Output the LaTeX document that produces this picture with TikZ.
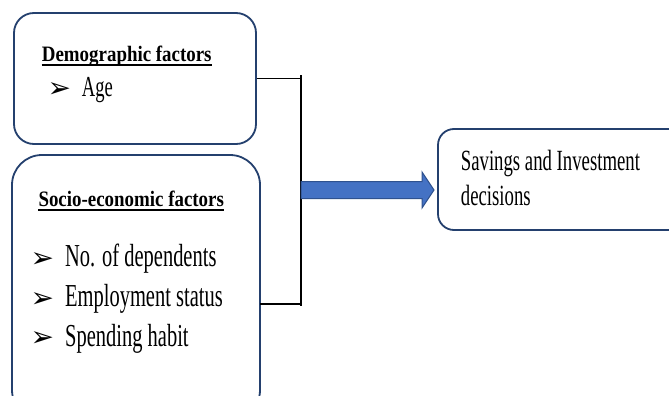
\documentclass[tikz,border=0pt]{standalone}
\usepackage{fontspec}
\setmainfont{Liberation Serif}[FakeStretch=0.64]
\newfontfamily\headfont{Liberation Serif}[FakeStretch=0.86]
\newfontfamily\bulletfont{DejaVu Sans}
\definecolor{boxline}{HTML}{24406E}
\definecolor{arrowfill}{HTML}{4472C4}
\definecolor{arrowedge}{HTML}{2F528F}
\tikzset{
  factorbox/.style={draw=boxline, line width=1.8pt, rectangle, inner sep=0pt},
  headtext/.style={anchor=base west, inner sep=0pt, font=\headfont\bfseries\fontsize{22}{26}\selectfont},
  itemtext/.style={anchor=base west, inner sep=0pt, font=\fontsize{32}{38}\selectfont},
  bullet/.style={anchor=base west, inner sep=0pt, font=\bulletfont\fontsize{28}{30}\selectfont},
  bracket/.style={draw=black, line width=1.8pt},
  blockarrow/.style={fill=arrowfill, draw=arrowedge, line width=1pt, line join=miter}
}
\begin{document}
\begin{tikzpicture}[x=1pt, y=-1pt]
\useasboundingbox[fill=white] (0,0) rectangle (669,396);
\clip (0,0) rectangle (669,396);

% demographic factors box
\node[factorbox, rounded corners=20pt, minimum width=242pt, minimum height=131pt] at (135, 78.5) (demo) {};
\node[headtext] at (41.7, 61.7) (demotitle) {Demographic factors};
\draw[line width=1.6pt] ([yshift=-3.5pt]demotitle.base west) -- ([yshift=-3.5pt]demotitle.base east);
\node[bullet] at (47.5, 97) (agebul) {➢};
\node[itemtext, font=\fontsize{29}{34}\selectfont] at (81.7, 96.7) (age) {Age};

% socio-economic factors box (runs below the page edge)
\node[factorbox, rounded corners=30pt, minimum width=248pt, minimum height=265pt] at (136, 287.5) (socio) {};
\node[headtext] at (38.3, 206.7) (sociotitle) {Socio-economic factors};
\draw[line width=1.6pt] ([yshift=-3.5pt]sociotitle.base west) -- ([yshift=-3.5pt]sociotitle.base east);
\node[bullet] at (30.5, 267) (depbul) {➢};
\node[itemtext] at (65, 266.7) (dep) {No. of dependents};
\node[bullet] at (30.5, 307) (empbul) {➢};
\node[itemtext] at (65, 306.7) (emp) {Employment status};
\node[bullet] at (30.5, 346.8) (spbul) {➢};
\node[itemtext] at (65, 346.5) (spend) {Spending habit};

% decision box (runs past the right edge)
\node[factorbox, rounded corners=16pt, minimum width=262pt, minimum height=101pt] at (569, 179.5) (goal) {};
\node[anchor=north west, align=left, inner sep=0pt, font=\fontsize{29.3}{35}\selectfont] at (460.7, 150) (goaltext) {Savings and Investment\\decisions};

% bracket joining the two factor boxes
\coordinate (bartop) at (301, 75);
\coordinate (barbot) at (301, 305.5);
\coordinate (sociojoin) at (260, 304);
\draw[bracket] (bartop) -- (barbot);
\draw[bracket] (demo.east) -- (demo.east -| bartop);
\draw[bracket] (sociojoin) -- (sociojoin -| bartop);

% block arrow to the decision box
\coordinate (join) at (301, 190);
\coordinate (tip) at (434, 190);
\draw[blockarrow] (join) ++(0,-8.5) -- ([shift={(-12,-8.5)}]tip) -- ([shift={(-12,-18)}]tip) -- (tip)
  -- ([shift={(-12,18)}]tip) -- ([shift={(-12,8.5)}]tip) -- ([shift={(0,8.5)}]join) -- cycle;

\end{tikzpicture}
\end{document}
